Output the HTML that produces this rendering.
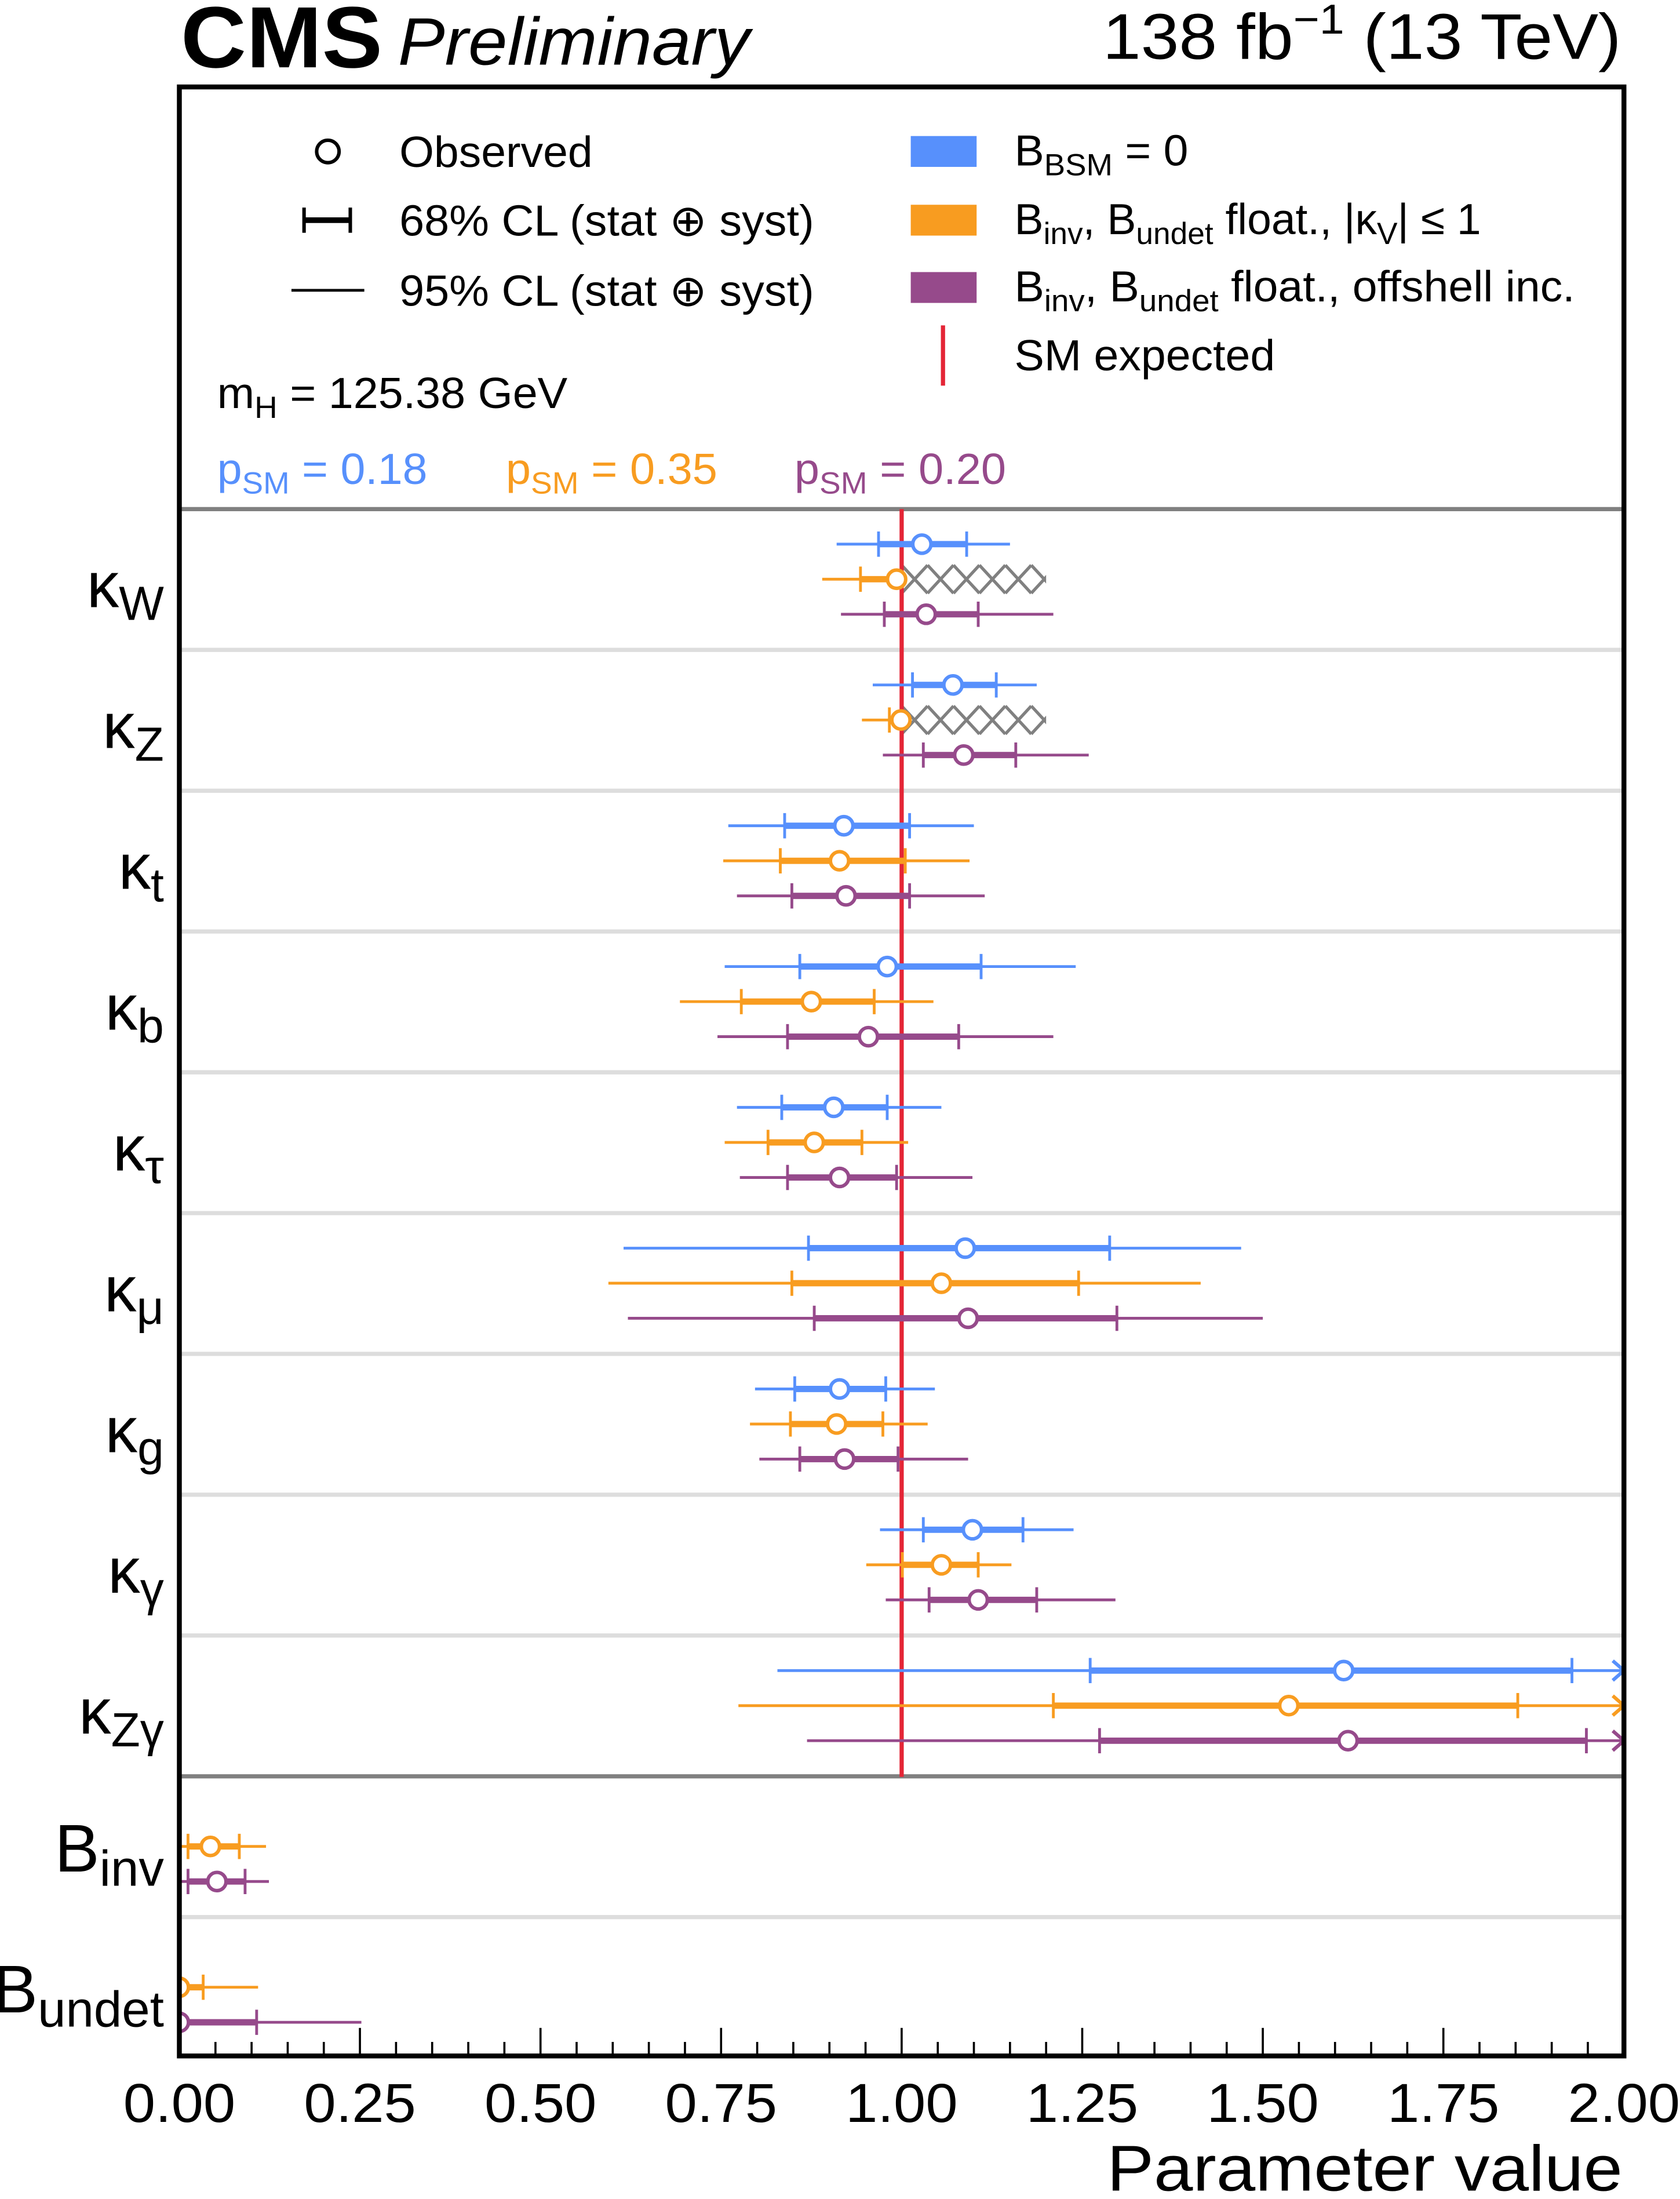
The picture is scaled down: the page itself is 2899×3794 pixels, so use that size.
<!DOCTYPE html>
<html><head><meta charset="utf-8"><style>
html,body{margin:0;padding:0;background:#fff}
svg{display:block}
text{font-family:"Liberation Sans",sans-serif}
</style></head><body>
<svg id="chart" xmlns="http://www.w3.org/2000/svg" width="2899" height="3794" viewBox="0 0 1199 1568" preserveAspectRatio="none">
<defs><clipPath id="plotclip"><rect x="128" y="62" width="1031" height="1404"/></clipPath></defs>
<rect x="0" y="0" width="1199" height="1568" fill="#fff"/>
<g id="header">
<text x="129" y="48" font-size="62" font-weight="bold" textLength="144" lengthAdjust="spacingAndGlyphs">CMS</text>
<text x="284" y="46" font-size="48" font-style="italic" textLength="251" lengthAdjust="spacingAndGlyphs">Preliminary</text>
<text x="787" y="42" font-size="46" textLength="370" lengthAdjust="spacingAndGlyphs">138 fb<tspan dy="-18" font-size="30">−1</tspan><tspan dy="18"> (13 TeV)</tspan></text>
</g>
<g id="legend">
<g><circle cx="234" cy="108" r="8" fill="#fff" stroke="#000" stroke-width="2.5"/><text x="285" y="119" font-size="31" textLength="138" lengthAdjust="spacingAndGlyphs">Observed</text></g>
<g><line x1="216" y1="157" x2="251" y2="157" stroke="#000" stroke-width="4"/><line x1="217" y1="148" x2="217" y2="166" stroke="#000" stroke-width="2.5"/><line x1="250" y1="148" x2="250" y2="166" stroke="#000" stroke-width="2.5"/><text x="285" y="168" font-size="31" textLength="296" lengthAdjust="spacingAndGlyphs">68% CL (stat ⊕ syst)</text></g>
<g><line x1="208" y1="207" x2="260" y2="207" stroke="#000" stroke-width="2"/><text x="285" y="218" font-size="31" textLength="296" lengthAdjust="spacingAndGlyphs">95% CL (stat ⊕ syst)</text></g>
<g><rect x="650" y="97" width="47" height="22" fill="#5790fc"/><text x="724" y="118" font-size="31" textLength="124" lengthAdjust="spacingAndGlyphs">B<tspan font-size="22" dy="7">BSM</tspan><tspan dy="-7"> = 0</tspan></text></g>
<g><rect x="650" y="146" width="47" height="22" fill="#f89c20"/><text x="724" y="167" font-size="31" textLength="333" lengthAdjust="spacingAndGlyphs">B<tspan font-size="22" dy="7">inv</tspan><tspan dy="-7">, B</tspan><tspan font-size="22" dy="7">undet</tspan><tspan dy="-7"> float., |κ</tspan><tspan font-size="22" dy="7">V</tspan><tspan dy="-7">| ≤ 1</tspan></text></g>
<g><rect x="650" y="194" width="47" height="22" fill="#964a8b"/><text x="724" y="215" font-size="31" textLength="400" lengthAdjust="spacingAndGlyphs">B<tspan font-size="22" dy="7">inv</tspan><tspan dy="-7">, B</tspan><tspan font-size="22" dy="7">undet</tspan><tspan dy="-7"> float., offshell inc.</tspan></text></g>
<g><line x1="673" y1="232" x2="673" y2="275" stroke="#e42536" stroke-width="3"/><text x="724" y="264" font-size="31" textLength="186" lengthAdjust="spacingAndGlyphs">SM expected</text></g>
<text x="155" y="291" font-size="31" textLength="250" lengthAdjust="spacingAndGlyphs">m<tspan font-size="22" dy="7">H</tspan><tspan dy="-7"> = 125.38 GeV</tspan></text>
<text x="155" y="345" font-size="31" fill="#5790fc" textLength="150" lengthAdjust="spacingAndGlyphs">p<tspan font-size="22" dy="7">SM</tspan><tspan dy="-7"> = 0.18</tspan></text>
<text x="361" y="345" font-size="31" fill="#f89c20" textLength="151" lengthAdjust="spacingAndGlyphs">p<tspan font-size="22" dy="7">SM</tspan><tspan dy="-7"> = 0.35</tspan></text>
<text x="567" y="345" font-size="31" fill="#964a8b" textLength="151" lengthAdjust="spacingAndGlyphs">p<tspan font-size="22" dy="7">SM</tspan><tspan dy="-7"> = 0.20</tspan></text>
</g>
<g id="grid"></g>
<g id="marks" clip-path="url(#plotclip)"></g>
<g id="axes"></g>
<rect x="128" y="62" width="1031" height="1404" fill="none" stroke="#000" stroke-width="3.5"/>
<text x="790" y="1562" font-size="46" textLength="368" lengthAdjust="spacingAndGlyphs">Parameter value</text>
</svg>
<script>
const NS = "http://www.w3.org/2000/svg";
// ---- data ----
const rowLabels = ["W","Z","t","b","τ","μ","g","γ","Zγ","inv","undet"];
const blueCenter = [1.028,1.071,0.92,0.98,0.906,1.088,0.914,1.098,1.612,null,null];
const blue68Lo = [0.968,1.015,0.838,0.859,0.834,0.871,0.852,1.03,1.261,null,null];
const blue68Hi = [1.09,1.131,1.011,1.11,0.98,1.288,0.978,1.168,1.928,null,null];
const blue95Lo = [0.91,0.96,0.76,0.755,0.772,0.615,0.797,0.97,0.828,null,null];
const blue95Hi = [1.15,1.187,1.10,1.241,1.055,1.47,1.046,1.238,2.2,null,null];
const orangeCenter = [0.993,0.999,0.914,0.875,0.879,1.055,0.91,1.055,1.536,0.043,0.0];
const orange68Lo = [0.943,0.983,0.832,0.778,0.815,0.848,0.846,1.001,1.21,0.012,0.0];
const orange68Hi = [1.0,1.0,1.005,0.962,0.945,1.245,0.974,1.106,1.853,0.083,0.033];
const orange95Lo = [0.89,0.945,0.753,0.693,0.755,0.594,0.79,0.951,0.774,0.0,0.0];
const orange95Hi = [1.0,1.0,1.094,1.044,1.009,1.414,1.036,1.152,2.2,0.12,0.109];
const purpleCenter = [1.034,1.086,0.923,0.954,0.914,1.092,0.921,1.106,1.618,0.052,0.0];
const purple68Lo = [0.976,1.03,0.848,0.842,0.842,0.879,0.859,1.038,1.274,0.012,0.0];
const purple68Hi = [1.106,1.158,1.011,1.079,0.993,1.298,0.995,1.187,1.948,0.091,0.107];
const purple95Lo = [0.916,0.974,0.772,0.745,0.776,0.621,0.803,0.978,0.869,0.0,0.0];
const purple95Hi = [1.21,1.259,1.115,1.21,1.098,1.5,1.092,1.296,2.2,0.124,0.252];
const hatchLo = [1.0,1.0];
const hatchHi = [1.2,1.2];
const xTicks = [0,0.25,0.5,0.75,1.0,1.25,1.5,1.75,2.0];
const xTickLabels = ["0.00","0.25","0.50","0.75","1.00","1.25","1.50","1.75","2.00"];
const smValue = 1.0;

const X0=128, X1=1159, XMIN=0, XMAX=2;
function xs(v){ return X0 + (v-XMIN)/(XMAX-XMIN)*(X1-X0); }
const ROW0=363, ROWH=100.4;
function rowTop(i){ return ROW0 + i*ROWH; }
function ys(i,k){ return rowTop(i) + 25 + 25*k; }

function mk(tag, attrs, parent){
  const e=document.createElementNS(NS,tag);
  for(const k in attrs) e.setAttribute(k,attrs[k]);
  parent.appendChild(e); return e;
}
const grid=document.getElementById('grid');
const marks=document.getElementById('marks');
const axes=document.getElementById('axes');

for(let i=0;i<=rowLabels.length-1;i++){
  const y=rowTop(i);
  const dark=(i===0||i===9);
  const l=mk('line',{x1:X0,x2:X1,y1:y,y2:y,stroke:dark?'#808080':'#dddddd','stroke-width':3},grid);
  
  
}
rowLabels.forEach((lab,i)=>{
  const isB = i>=9;
  const t=mk('text',{x:117,y:rowTop(i)+(isB?68:70),'font-size':isB?48:46,'text-anchor':'end'},axes);
  
  
  t.textContent = isB?'B':'κ';
  const s=mk('tspan',{'font-size':isB?36:34,dy:isB?10:9},t);
  s.textContent=lab;
});
hatchLo.forEach((lo,i)=>{
  const g=mk('g',{},marks);
  
  
  const cid='hc'+i;
  const y=ys(i,1), top=y-10, bot=y+10;
  const cp=mk('clipPath',{id:cid},g);
  mk('rect',{x:xs(lo),y:top-2,width:xs(hatchHi[i])-xs(lo),height:bot-top+4},cp);
  const gg=mk('g',{'clip-path':'url(#'+cid+')'},g);
  const p=18.5;
  for(let x=xs(lo)-p; x<xs(hatchHi[i])+p; x+=p){
    mk('line',{x1:x,y1:top,x2:x+p,y2:bot,stroke:'#808080','stroke-width':2.2},gg);
    mk('line',{x1:x+p,y1:top,x2:x,y2:bot,stroke:'#808080','stroke-width':2.2},gg);
  }
});
const sm=mk('line',{x1:xs(smValue),x2:xs(smValue),y1:363,y2:1267,stroke:'#e42536','stroke-width':3},marks);



const series=[
  {name:'bbsm0',color:'#5790fc',c:blueCenter,l68:blue68Lo,h68:blue68Hi,l95:blue95Lo,h95:blue95Hi,k:0},
  {name:'binv-kv',color:'#f89c20',c:orangeCenter,l68:orange68Lo,h68:orange68Hi,l95:orange95Lo,h95:orange95Hi,k:1},
  {name:'offshell',color:'#964a8b',c:purpleCenter,l68:purple68Lo,h68:purple68Hi,l95:purple95Lo,h95:purple95Hi,k:2},
];
series.forEach(s=>{
  s.c.forEach((c,i)=>{
    if(c===null) return;
    const y=ys(i,s.k);
    const g=mk('g',{},marks);
    
    
    const hi95=Math.min(s.h95[i],XMAX);
    mk('line',{x1:xs(s.l95[i]),x2:xs(hi95),y1:y,y2:y,stroke:s.color,'stroke-width':2},g);
    mk('line',{x1:xs(s.l68[i]),x2:xs(s.h68[i]),y1:y,y2:y,stroke:s.color,'stroke-width':4.5},g);
    [s.l68[i],s.h68[i]].forEach(v=>{
      if(i<2 && s.k===1 && v===hatchLo[i]) return;
      mk('line',{x1:xs(v),x2:xs(v),y1:y-9,y2:y+9,stroke:s.color,'stroke-width':2},g);
    });
    if(s.h95[i]>XMAX){
      const ax=xs(XMAX);
      mk('path',{d:`M${ax-8},${y-7} L${ax},${y} L${ax-8},${y+7}`,fill:'none',stroke:s.color,'stroke-width':2.5},g);
    }
    mk('circle',{cx:xs(c),cy:y,r:6.5,fill:'#fff',stroke:s.color,'stroke-width':2.5},g);
  });
});
for(let v=0; v<=2.0001; v+=0.05){
  const major=Math.abs(v/0.25-Math.round(v/0.25))<1e-6;
  const t=mk('line',{x1:xs(v),x2:xs(v),y1:1466,y2:1466-(major?20:10),stroke:'#000','stroke-width':1.5},axes);
  
  
}
xTicks.forEach((v,i)=>{
  const t=mk('text',{x:xs(v)-40,y:1513,'font-size':39,textLength:80,lengthAdjust:'spacingAndGlyphs'},axes);
  
  
  t.textContent=xTickLabels[i];
});
</script>
</body></html>
